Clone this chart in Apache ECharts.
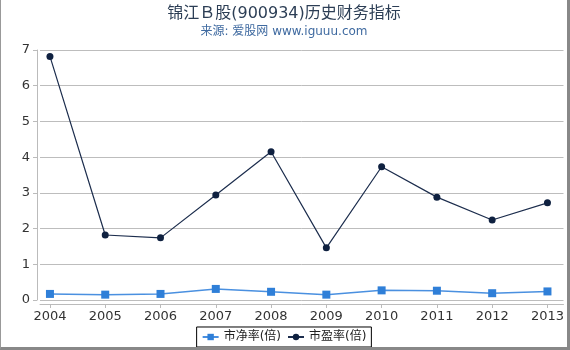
<!DOCTYPE html>
<html>
<head>
<meta charset="utf-8">
<script src="https://cdn.jsdelivr.net/npm/echarts@6/dist/echarts.min.js"></script>
<style>
  html, body { margin: 0; padding: 0; background: #fff; }
  .wrap {
    width: 570px; height: 350px; box-sizing: border-box;
    border-left: 1px solid #999; border-right: 3px solid #888; border-bottom: 3px solid #888;
  }
  #chart { width: 566px; height: 347px; }
</style>
</head>
<body>
<div class="wrap"><div id="chart"></div></div>
<script>
const years = [2004, 2005, 2006, 2007, 2008, 2009, 2010, 2011, 2012, 2013]
const pb = [0.17, 0.15, 0.17, 0.31, 0.23, 0.15, 0.27, 0.26, 0.19, 0.24]
const pe = [6.82, 1.82, 1.74, 2.94, 4.15, 1.46, 3.73, 2.88, 2.24, 2.72]
const yTicks = [0, 1, 2, 3, 4, 5, 6, 7]

const font = 'DejaVu Sans, Noto Sans CJK SC, sans-serif'
const chart = echarts.init(document.getElementById('chart'))

const option = {
  animation: false,
  textStyle: { fontFamily: font },
  title: {
    text: '锦江Ｂ股(900934)历史财务指标',
    subtext: '来源: 爱股网 www.iguuu.com',
    left: 'center',
    top: 1,
    itemGap: 4,
    textStyle: { color: '#2c3e55', fontSize: 16, fontWeight: 'normal', fontFamily: font },
    subtextStyle: { color: '#3f6aa0', fontSize: 12, fontFamily: font }
  },
  legend: {
    bottom: 0,
    left: 'center',
    borderColor: '#000',
    borderWidth: 1,
    padding: [4, 5],
    itemGap: 6,
    itemWidth: 16,
    itemHeight: 8,
    textStyle: { color: '#222', fontSize: 12, fontFamily: font },
    data: ['市净率(倍)', '市盈率(倍)']
  },
  grid: { left: 39, right: 3, top: 50, bottom: 47 },
  xAxis: {
    type: 'value',
    min: 2003.82,
    max: 2013.29,
    splitLine: { show: false },
    axisLine: { onZero: false, lineStyle: { color: '#bbb' } },
    offset: 4,
    axisTick: { customValues: years, length: 4, lineStyle: { color: '#bbb' } },
    axisLabel: { customValues: years, color: '#333', fontSize: 13, margin: 6, formatter: v => String(v) }
  },
  yAxis: {
    type: 'value',
    min: 0,
    max: 7,
    interval: 1,
    offset: 3,
    axisLine: { show: true, lineStyle: { color: '#bbb' } },
    axisTick: { show: true, length: 4, lineStyle: { color: '#bbb' } },
    axisLabel: { color: '#333', fontSize: 13, margin: 7, customValues: yTicks },
    splitLine: { lineStyle: { color: '#bdbdbd' } }
  },
  series: [
    {
      name: '市净率(倍)',
      type: 'line',
      data: years.map((y, i) => [y, pb[i]]),
      symbol: 'rect',
      symbolSize: 8,
      itemStyle: { color: '#2f7fd8' },
      lineStyle: { color: '#4a90e0', width: 1.5 }
    },
    {
      name: '市盈率(倍)',
      type: 'line',
      data: years.map((y, i) => [y, pe[i]]),
      symbol: 'circle',
      symbolSize: 7,
      itemStyle: { color: '#0f2140' },
      lineStyle: { color: '#1c2d4d', width: 1.2 }
    }
  ]
}

chart.setOption(option)
</script>
</body>
</html>
